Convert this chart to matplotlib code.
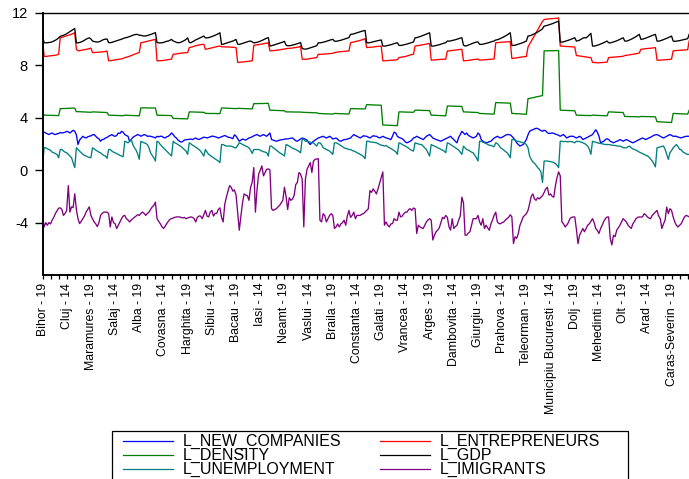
import matplotlib
matplotlib.use("Agg")
import matplotlib.pyplot as plt
from matplotlib.lines import Line2D
from matplotlib.patches import Rectangle

# judetele din panel (Bihor intra doar cu anul 2019, restul 2010-2019)
counties = ["Bistrita-Nasaud", "Cluj", "Maramures", "Satu Mare", "Salaj",
            "Alba", "Brasov", "Covasna", "Harghita", "Mures", "Sibiu",
            "Bacau", "Botosani", "Iasi", "Neamt", "Suceava", "Vaslui",
            "Braila", "Buzau", "Constanta", "Galati", "Tulcea", "Vrancea",
            "Arges", "Calarasi", "Dambovita", "Giurgiu", "Ialomita", "Prahova", "Teleorman",
            "Ilfov", "Municipiu Bucuresti",
            "Dolj", "Gorj", "Mehedinti", "Olt", "Valcea",
            "Arad", "Caras-Severin", "Hunedoara", "Timis"]
years = ["10", "11", "12", "13", "14", "15", "16", "17", "18", "19"]
obs_labels = ["Bihor - 19"] + [f"{c} - {y}" for c in counties for y in years]

l_new_companies = [
    2.97,
    2.90, 2.84, 2.78, 2.72, 2.80, 2.84, 2.75, 2.72, 2.78, 2.80,
    2.88, 2.84, 2.86, 2.90, 2.97, 2.92, 2.84, 2.95, 3.05, 2.97,
    2.70, 1.96, 2.30, 2.45, 2.59, 2.50, 2.46, 2.55, 2.59, 2.62,
    2.70, 2.72, 2.60, 2.46, 2.40, 2.21, 2.34, 2.36, 2.46, 2.50,
    2.59, 2.65, 2.72, 2.62, 2.59, 2.65, 2.84, 2.80, 2.97, 2.90,
    2.72, 2.65, 2.59, 2.21, 2.34, 2.50, 2.59, 2.65, 2.72, 2.68,
    2.59, 2.65, 2.72, 2.68, 2.59, 2.60, 2.59, 2.55, 2.52, 2.46,
    2.59, 2.55, 2.59, 2.59, 2.50, 2.46, 2.55, 2.59, 2.70, 2.84,
    2.72, 2.55, 2.46, 2.30, 2.21, 2.14, 2.20, 2.30, 2.33, 2.34,
    2.36, 2.38, 2.34, 2.40, 2.46, 2.38, 2.34, 2.40, 2.46, 2.52,
    2.50, 2.46, 2.50, 2.55, 2.60, 2.59, 2.55, 2.52, 2.46, 2.50,
    2.55, 2.60, 2.65, 2.59, 2.52, 2.50, 2.46, 2.41, 2.70, 2.60,
    2.40, 2.21, 2.30, 2.38, 2.34, 2.30, 2.38, 2.46, 2.50, 2.55,
    2.62, 2.68, 2.72, 2.65, 2.59, 2.66, 2.72, 2.65, 2.59, 2.72,
    2.84, 2.34, 2.30, 2.25, 2.21, 2.25, 2.30, 2.32, 2.34, 2.36,
    2.40, 2.38, 2.42, 2.44, 2.46, 2.35, 2.25, 2.21, 2.30, 2.38,
    2.46, 2.42, 2.36, 2.30, 2.10, 1.96, 2.10, 2.21, 2.30, 2.38,
    2.46, 2.50, 2.55, 2.59, 2.52, 2.46, 2.52, 2.59, 2.50, 2.38,
    2.42, 2.46, 2.35, 2.25, 2.21, 2.28, 2.34, 2.34, 2.38, 2.42,
    2.46, 2.60, 2.72, 2.65, 2.59, 2.52, 2.46, 2.55, 2.63, 2.60,
    2.59, 2.52, 2.46, 2.55, 2.63, 2.60, 2.59, 2.52, 2.46, 2.52,
    2.59, 2.52, 2.46, 2.44, 2.38, 2.34, 2.60, 2.90, 2.84, 2.59,
    2.50, 2.46, 2.40, 2.30, 2.15, 2.09, 2.15, 2.21, 2.30, 2.46,
    2.50, 2.59, 2.52, 2.46, 2.40, 2.34, 2.45, 2.59, 2.66, 2.72,
    2.60, 2.46, 2.40, 2.34, 2.30, 2.25, 2.21, 2.28, 2.34, 2.40,
    2.46, 2.52, 2.59, 2.45, 2.34, 2.20, 2.09, 2.50, 2.72, 2.97,
    2.84, 2.72, 2.84, 2.66, 2.59, 2.52, 2.46, 2.52, 2.59, 2.84,
    2.72, 2.34, 2.21, 2.15, 2.09, 2.12, 2.18, 2.21, 2.34, 2.46,
    2.52, 2.59, 2.52, 2.46, 2.52, 2.59, 2.66, 2.72, 2.72, 2.70,
    2.59, 2.46, 2.30, 2.09, 1.96, 1.84, 1.90, 1.96, 2.15, 2.34,
    2.70, 2.97, 3.05, 3.09, 3.15, 3.20, 3.18, 3.10, 3.03, 2.97,
    3.05, 3.00, 2.86, 2.80, 2.82, 2.84, 2.82, 2.75, 2.72, 2.66,
    2.59, 2.66, 2.72, 2.60, 2.46, 2.52, 2.59, 2.59, 2.59, 2.52,
    2.46, 2.52, 2.59, 2.50, 2.34, 2.40, 2.46, 2.52, 2.59, 2.65,
    2.72, 2.90, 3.09, 2.90, 2.60, 2.09, 2.15, 2.21, 2.34, 2.40,
    2.34, 2.21, 2.15, 2.09, 2.15, 2.21, 2.25, 2.34, 2.28, 2.21,
    2.28, 2.34, 2.28, 2.21, 2.15, 2.09, 2.15, 2.21, 2.28, 2.34,
    2.40, 2.46, 2.40, 2.34, 2.40, 2.46, 2.52, 2.59, 2.66, 2.70,
    2.72, 2.66, 2.59, 2.52, 2.46, 2.52, 2.59, 2.66, 2.72, 2.66,
    2.59, 2.59, 2.59, 2.52, 2.50, 2.46, 2.52, 2.55, 2.59, 2.59,
    2.59, 2.65, 2.70, 2.62, 2.60, 2.68, 2.72, 2.66, 2.70, 2.75,
]

l_entrepreneurs = [
    10.00,
    8.70, 8.68, 8.70, 8.72, 8.73, 8.75, 8.76, 8.78, 8.80, 8.85,
    10.11, 10.14, 10.18, 10.22, 10.26, 10.30, 10.34, 10.38, 10.43, 10.49,
    9.23, 9.12, 9.12, 9.15, 9.18, 9.20, 9.22, 9.25, 9.28, 9.32,
    8.98, 8.98, 8.99, 9.00, 9.01, 9.02, 9.03, 9.05, 9.06, 9.10,
    8.35, 8.36, 8.38, 8.40, 8.42, 8.44, 8.46, 8.48, 8.50, 8.52,
    8.60, 8.62, 8.66, 8.70, 8.75, 8.80, 8.85, 8.90, 8.94, 8.98,
    9.73, 9.75, 9.78, 9.81, 9.84, 9.87, 9.90, 9.93, 9.96, 9.99,
    8.35, 8.35, 8.36, 8.37, 8.38, 8.40, 8.42, 8.44, 8.46, 8.48,
    8.85, 8.86, 8.88, 8.90, 8.92, 8.94, 8.95, 8.96, 8.97, 8.98,
    9.36, 9.38, 9.42, 9.46, 9.50, 9.53, 9.56, 9.58, 9.60, 9.61,
    9.23, 9.25, 9.28, 9.31, 9.34, 9.37, 9.40, 9.43, 9.46, 9.48,
    9.42, 9.42, 9.41, 9.41, 9.40, 9.40, 9.39, 9.38, 9.37, 9.36,
    8.23, 8.24, 8.25, 8.26, 8.27, 8.29, 8.30, 8.32, 8.33, 8.35,
    9.53, 9.55, 9.57, 9.59, 9.61, 9.63, 9.65, 9.68, 9.70, 9.73,
    9.11, 9.12, 9.13, 9.14, 9.15, 9.17, 9.19, 9.21, 9.23, 9.25,
    9.28, 9.29, 9.30, 9.31, 9.33, 9.35, 9.37, 9.39, 9.41, 9.48,
    8.48, 8.46, 8.47, 8.48, 8.50, 8.52, 8.54, 8.56, 8.58, 8.60,
    8.85, 8.84, 8.85, 8.86, 8.87, 8.88, 8.89, 8.90, 8.91, 8.92,
    8.98, 9.00, 9.02, 9.04, 9.05, 9.06, 9.07, 9.08, 9.09, 9.11,
    9.73, 9.76, 9.79, 9.82, 9.85, 9.88, 9.91, 9.95, 9.99, 10.04,
    9.36, 9.37, 9.38, 9.39, 9.40, 9.42, 9.44, 9.45, 9.46, 9.48,
    8.35, 8.35, 8.36, 8.37, 8.38, 8.39, 8.40, 8.41, 8.42, 8.43,
    8.60, 8.62, 8.64, 8.66, 8.68, 8.72, 8.76, 8.80, 8.83, 8.85,
    9.48, 9.50, 9.52, 9.54, 9.56, 9.58, 9.60, 9.63, 9.66, 9.68,
    8.40, 8.41, 8.42, 8.43, 8.44, 8.45, 8.46, 8.47, 8.47, 8.48,
    9.10, 9.11, 9.12, 9.14, 9.15, 9.17, 9.19, 9.20, 9.22, 9.23,
    8.35, 8.36, 8.37, 8.38, 8.40, 8.42, 8.44, 8.46, 8.47, 8.48,
    8.40, 8.41, 8.42, 8.43, 8.44, 8.45, 8.46, 8.47, 8.48, 8.50,
    9.73, 9.74, 9.75, 9.76, 9.77, 9.78, 9.79, 9.80, 9.81, 9.82,
    8.53, 8.54, 8.56, 8.58, 8.60, 8.62, 8.64, 8.65, 8.67, 8.68,
    9.40, 9.62, 9.83, 10.05, 10.28, 10.50, 10.71, 10.93, 11.15, 11.36,
    11.50, 11.52, 11.54, 11.55, 11.56, 11.57, 11.58, 11.59, 11.60, 11.62,
    9.48, 9.47, 9.46, 9.45, 9.44, 9.44, 9.43, 9.42, 9.41, 9.40,
    8.75, 8.74, 8.72, 8.70, 8.68, 8.66, 8.64, 8.62, 8.61, 8.60,
    8.23, 8.22, 8.21, 8.20, 8.20, 8.21, 8.22, 8.23, 8.24, 8.25,
    8.60, 8.61, 8.62, 8.63, 8.64, 8.65, 8.66, 8.67, 8.68, 8.70,
    8.75, 8.77, 8.79, 8.81, 8.83, 8.85, 8.87, 8.89, 8.92, 8.95,
    9.23, 9.24, 9.26, 9.28, 9.29, 9.30, 9.31, 9.33, 9.34, 9.36,
    8.40, 8.40, 8.41, 8.41, 8.42, 8.43, 8.44, 8.45, 8.46, 8.48,
    9.11, 9.12, 9.13, 9.14, 9.15, 9.16, 9.17, 9.18, 9.19, 9.20,
    9.90, 9.93, 9.96, 9.99, 10.02, 10.05, 10.08, 10.11, 10.14, 10.17,
]

l_density = [
    4.45,
    4.20, 4.20, 4.19, 4.19, 4.19, 4.18, 4.18, 4.18, 4.17, 4.17,
    4.70, 4.70, 4.71, 4.71, 4.72, 4.72, 4.73, 4.73, 4.74, 4.74,
    4.47, 4.47, 4.46, 4.46, 4.45, 4.45, 4.44, 4.43, 4.43, 4.42,
    4.45, 4.45, 4.44, 4.44, 4.43, 4.42, 4.42, 4.41, 4.41, 4.40,
    4.20, 4.20, 4.19, 4.19, 4.18, 4.18, 4.17, 4.17, 4.16, 4.16,
    4.20, 4.20, 4.19, 4.18, 4.18, 4.17, 4.17, 4.16, 4.16, 4.15,
    4.76, 4.76, 4.76, 4.76, 4.75, 4.75, 4.75, 4.75, 4.75, 4.75,
    4.20, 4.20, 4.19, 4.19, 4.19, 4.18, 4.18, 4.18, 4.17, 4.17,
    3.95, 3.95, 3.95, 3.94, 3.94, 3.93, 3.93, 3.93, 3.92, 3.92,
    4.45, 4.45, 4.45, 4.44, 4.44, 4.43, 4.43, 4.43, 4.42, 4.42,
    4.34, 4.34, 4.33, 4.33, 4.33, 4.33, 4.33, 4.32, 4.32, 4.32,
    4.75, 4.75, 4.74, 4.74, 4.73, 4.72, 4.72, 4.71, 4.71, 4.70,
    4.72, 4.72, 4.71, 4.71, 4.70, 4.70, 4.69, 4.69, 4.68, 4.68,
    5.08, 5.08, 5.08, 5.09, 5.09, 5.09, 5.09, 5.10, 5.10, 5.10,
    4.58, 4.58, 4.57, 4.57, 4.56, 4.56, 4.55, 4.55, 4.54, 4.54,
    4.45, 4.45, 4.45, 4.45, 4.45, 4.44, 4.44, 4.44, 4.44, 4.44,
    4.42, 4.42, 4.41, 4.41, 4.40, 4.40, 4.39, 4.39, 4.38, 4.38,
    4.33, 4.33, 4.32, 4.31, 4.31, 4.30, 4.30, 4.29, 4.29, 4.28,
    4.33, 4.33, 4.32, 4.32, 4.31, 4.31, 4.30, 4.30, 4.29, 4.29,
    4.70, 4.70, 4.70, 4.69, 4.69, 4.69, 4.69, 4.68, 4.68, 4.68,
    5.00, 5.00, 4.99, 4.99, 4.98, 4.98, 4.97, 4.97, 4.96, 4.96,
    3.45, 3.45, 3.44, 3.44, 3.43, 3.42, 3.42, 3.41, 3.41, 3.40,
    4.45, 4.45, 4.45, 4.44, 4.44, 4.43, 4.43, 4.43, 4.42, 4.42,
    4.58, 4.58, 4.58, 4.57, 4.57, 4.56, 4.56, 4.56, 4.55, 4.55,
    4.20, 4.20, 4.19, 4.19, 4.18, 4.17, 4.17, 4.16, 4.16, 4.15,
    4.90, 4.90, 4.90, 4.89, 4.89, 4.88, 4.88, 4.88, 4.87, 4.87,
    4.45, 4.45, 4.44, 4.44, 4.43, 4.42, 4.42, 4.41, 4.41, 4.40,
    4.33, 4.33, 4.32, 4.32, 4.31, 4.30, 4.30, 4.29, 4.29, 4.28,
    5.16, 5.16, 5.15, 5.15, 5.14, 5.14, 5.13, 5.13, 5.12, 5.12,
    4.33, 4.33, 4.32, 4.31, 4.31, 4.30, 4.29, 4.28, 4.28, 4.27,
    5.46, 5.48, 5.51, 5.53, 5.56, 5.59, 5.62, 5.64, 5.67, 5.70,
    9.11, 9.11, 9.11, 9.12, 9.12, 9.12, 9.12, 9.13, 9.13, 9.13,
    4.58, 4.58, 4.57, 4.57, 4.56, 4.56, 4.55, 4.55, 4.54, 4.54,
    4.20, 4.20, 4.19, 4.19, 4.19, 4.18, 4.18, 4.18, 4.17, 4.17,
    4.20, 4.20, 4.19, 4.18, 4.18, 4.17, 4.17, 4.16, 4.16, 4.15,
    4.45, 4.45, 4.44, 4.44, 4.43, 4.42, 4.42, 4.41, 4.41, 4.40,
    4.10, 4.10, 4.10, 4.09, 4.09, 4.09, 4.08, 4.08, 4.08, 4.07,
    4.10, 4.10, 4.10, 4.09, 4.09, 4.09, 4.08, 4.08, 4.08, 4.07,
    3.70, 3.70, 3.69, 3.68, 3.68, 3.67, 3.66, 3.65, 3.65, 3.64,
    4.33, 4.33, 4.32, 4.31, 4.31, 4.30, 4.30, 4.29, 4.29, 4.28,
    4.60, 4.60, 4.60, 4.61, 4.61, 4.61, 4.61, 4.62, 4.62, 4.62,
]

l_gdp = [
    10.25,
    9.73, 9.72, 9.73, 9.75, 9.76, 9.80, 9.86, 9.92, 10.00, 10.10,
    10.22, 10.26, 10.30, 10.35, 10.42, 10.50, 10.58, 10.66, 10.75, 10.82,
    9.73, 9.72, 9.75, 9.79, 9.85, 9.92, 10.00, 10.06, 10.10, 10.02,
    9.86, 9.82, 9.80, 9.78, 9.80, 9.85, 9.92, 9.98, 10.00, 10.02,
    9.74, 9.73, 9.76, 9.80, 9.84, 9.88, 9.92, 9.96, 10.00, 10.05,
    10.10, 10.12, 10.16, 10.20, 10.25, 10.30, 10.34, 10.37, 10.36, 10.30,
    10.30, 10.26, 10.24, 10.25, 10.28, 10.32, 10.36, 10.40, 10.45, 10.50,
    9.75, 9.72, 9.72, 9.73, 9.75, 9.80, 9.84, 9.86, 9.92, 9.98,
    9.86, 9.82, 9.76, 9.73, 9.74, 9.78, 9.84, 9.90, 9.99, 10.10,
    9.75, 9.73, 9.80, 9.88, 9.95, 10.00, 10.06, 10.12, 10.18, 10.24,
    10.10, 10.10, 10.12, 10.16, 10.20, 10.25, 10.30, 10.36, 10.42, 10.49,
    9.60, 9.62, 9.66, 9.70, 9.74, 9.78, 9.82, 9.86, 9.92, 9.98,
    9.62, 9.60, 9.64, 9.68, 9.72, 9.76, 9.80, 9.84, 9.86, 9.80,
    9.72, 9.74, 9.76, 9.80, 9.85, 9.90, 9.96, 10.02, 10.08, 10.12,
    9.48, 9.50, 9.54, 9.58, 9.62, 9.66, 9.70, 9.74, 9.78, 9.84,
    9.55, 9.50, 9.50, 9.52, 9.55, 9.58, 9.62, 9.66, 9.70, 9.74,
    9.30, 9.25, 9.24, 9.26, 9.30, 9.34, 9.38, 9.42, 9.46, 9.50,
    9.73, 9.72, 9.74, 9.77, 9.80, 9.84, 9.88, 9.92, 9.96, 9.99,
    9.85, 9.84, 9.86, 9.89, 9.92, 9.96, 10.00, 10.04, 10.08, 10.12,
    10.37, 10.38, 10.41, 10.45, 10.49, 10.53, 10.57, 10.61, 10.64, 10.67,
    9.73, 9.72, 9.74, 9.77, 9.80, 9.83, 9.86, 9.89, 9.92, 9.94,
    9.48, 9.47, 9.49, 9.52, 9.55, 9.58, 9.62, 9.66, 9.70, 9.73,
    9.53, 9.52, 9.54, 9.57, 9.60, 9.63, 9.67, 9.71, 9.75, 9.79,
    10.11, 10.12, 10.16, 10.20, 10.24, 10.29, 10.34, 10.39, 10.44, 10.49,
    9.48, 9.47, 9.49, 9.52, 9.55, 9.58, 9.62, 9.66, 9.70, 9.73,
    9.86, 9.85, 9.87, 9.90, 9.93, 9.96, 10.00, 10.04, 10.08, 10.11,
    9.55, 9.48, 9.50, 9.55, 9.60, 9.65, 9.70, 9.74, 9.78, 9.79,
    9.61, 9.60, 9.62, 9.65, 9.68, 9.71, 9.75, 9.79, 9.83, 9.86,
    9.94, 9.96, 10.00, 10.06, 10.12, 10.18, 10.25, 10.32, 10.40, 10.49,
    9.53, 9.52, 9.54, 9.58, 9.62, 9.66, 9.70, 9.75, 9.80, 9.86,
    10.24, 10.26, 10.30, 10.36, 10.42, 10.48, 10.55, 10.62, 10.70, 10.80,
    11.00, 11.02, 11.06, 11.10, 11.14, 11.18, 11.23, 11.28, 11.33, 11.38,
    9.79, 9.78, 9.80, 9.84, 9.88, 9.92, 9.96, 10.01, 10.06, 10.11,
    9.86, 9.88, 9.93, 10.00, 10.08, 10.12, 10.10, 10.20, 10.32, 10.45,
    9.48, 9.47, 9.50, 9.54, 9.58, 9.63, 9.68, 9.73, 9.80, 9.86,
    9.73, 9.72, 9.75, 9.79, 9.83, 9.88, 9.93, 9.99, 10.05, 10.11,
    9.86, 9.85, 9.89, 9.94, 10.00, 10.06, 10.13, 10.20, 10.28, 10.37,
    9.99, 10.00, 10.04, 10.08, 10.13, 10.18, 10.23, 10.28, 10.33, 10.37,
    9.86, 9.85, 9.88, 9.92, 9.97, 10.02, 10.07, 10.12, 10.18, 10.24,
    9.86, 9.84, 9.85, 9.87, 9.89, 9.92, 9.95, 9.98, 10.01, 10.04,
    10.40, 10.42, 10.47, 10.52, 10.58, 10.64, 10.70, 10.77, 10.84, 10.90,
]

l_unemployment = [
    0.33,
    1.71, 1.71, 1.63, 1.58, 1.51, 1.38, 1.33, 1.26, 1.21, 0.95,
    1.58, 1.58, 1.46, 1.38, 1.33, 1.21, 1.08, 0.95, 0.58, 0.20,
    1.71, 1.58, 1.46, 1.33, 1.21, 1.13, 1.08, 1.02, 0.98, 0.95,
    1.71, 1.63, 1.53, 1.46, 1.38, 1.33, 1.21, 1.13, 1.08, 0.91,
    1.58, 1.58, 1.46, 1.38, 1.33, 1.26, 1.21, 1.13, 1.08, 1.03,
    2.21, 2.16, 2.09, 2.20, 2.34, 1.96, 1.71, 1.53, 1.25, 0.83,
    2.21, 2.14, 2.09, 2.04, 1.96, 1.71, 1.33, 1.13, 0.95, 0.70,
    2.21, 2.14, 1.96, 1.84, 1.71, 1.58, 1.46, 1.33, 1.21, 1.08,
    2.21, 2.09, 2.04, 1.96, 1.89, 1.79, 1.68, 1.58, 1.46, 1.21,
    2.09, 2.01, 1.91, 1.84, 1.76, 1.68, 1.58, 1.46, 1.28, 1.08,
    1.58, 1.38, 1.21, 1.13, 1.03, 0.95, 0.88, 0.78, 0.70, 0.58,
    1.96, 1.96, 1.89, 1.84, 1.84, 1.84, 1.84, 1.79, 1.71, 1.71,
    1.89, 2.09, 2.04, 1.96, 1.91, 1.84, 1.79, 1.71, 1.53, 1.28,
    1.58, 1.58, 1.58, 1.58, 1.53, 1.46, 1.41, 1.38, 1.33, 1.08,
    1.84, 1.84, 1.71, 1.63, 1.53, 1.43, 1.33, 1.26, 1.18, 1.08,
    1.96, 1.91, 1.84, 1.76, 1.68, 1.63, 1.58, 1.51, 1.43, 1.33,
    2.39, 2.34, 2.21, 2.21, 2.16, 2.14, 2.09, 2.09, 1.96, 1.84,
    2.09, 2.09, 1.96, 1.71, 1.66, 1.58, 1.53, 1.46, 1.33, 1.21,
    2.09, 2.09, 2.04, 1.96, 1.89, 1.79, 1.71, 1.66, 1.63, 1.58,
    1.58, 1.51, 1.46, 1.41, 1.33, 1.28, 1.21, 1.13, 1.03, 0.88,
    2.21, 2.21, 2.16, 2.14, 2.14, 2.11, 2.09, 2.04, 1.96, 1.91,
    1.89, 1.84, 1.89, 1.79, 1.71, 1.66, 1.58, 1.51, 1.41, 1.21,
    2.09, 2.04, 1.96, 1.89, 1.84, 1.76, 1.68, 1.58, 1.51, 1.46,
    2.09, 2.04, 2.01, 1.96, 1.96, 1.84, 1.71, 1.58, 1.33, 1.08,
    1.96, 1.89, 1.84, 1.79, 1.71, 1.66, 1.58, 1.53, 1.46, 1.33,
    2.09, 2.04, 1.96, 1.89, 1.79, 1.71, 1.63, 1.53, 1.38, 1.21,
    1.84, 1.71, 1.58, 1.53, 1.46, 1.38, 1.33, 1.13, 0.95, 0.70,
    2.21, 2.21, 2.14, 2.09, 2.04, 1.96, 1.91, 1.89, 1.84, 1.79,
    2.09, 2.04, 1.89, 1.71, 1.63, 1.53, 1.43, 1.33, 1.18, 0.95,
    2.34, 2.34, 2.29, 2.21, 2.21, 2.16, 2.14, 2.09, 2.04, 1.96,
    1.71, 1.08, 0.83, 0.63, 0.53, 0.38, 0.20, 0.08, -0.13, -0.93,
    0.70, 0.70, 0.70, 0.68, 0.65, 0.63, 0.58, 0.50, 0.38, 0.20,
    2.21, 2.21, 2.18, 2.20, 2.18, 2.16, 2.20, 2.18, 2.14, 2.09,
    2.21, 2.20, 2.18, 2.14, 2.09, 2.04, 1.96, 1.84, 1.60, 1.21,
    2.21, 2.16, 2.14, 2.09, 2.06, 2.04, 2.01, 1.99, 1.96, 1.96,
    1.96, 1.94, 1.91, 1.89, 1.89, 1.86, 1.84, 1.84, 1.79, 1.71,
    1.71, 1.71, 1.79, 1.84, 1.71, 1.63, 1.58, 1.53, 1.46, 1.38,
    1.33, 1.26, 1.21, 1.15, 1.10, 1.00, 0.85, 0.70, 0.50, 0.25,
    1.71, 1.74, 1.78, 1.82, 1.84, 1.60, 1.20, 0.83, 1.33, 1.50,
    1.71, 1.84, 1.96, 1.80, 1.60, 1.55, 1.40, 1.33, 1.25, 1.20,
    1.21, 1.30, 1.26, 1.18, 1.10, 1.02, 0.95, 0.86, 0.75, 0.65,
]

l_imigrants = [
    -3.57,
    -4.33, -4.00, -4.20, -4.00, -4.10, -3.80, -3.60, -3.30, -3.10, -2.90,
    -2.87, -3.00, -3.45, -3.30, -3.07, -1.18, -3.20, -2.80, -2.85, -1.80,
    -3.00, -3.70, -4.08, -3.90, -3.70, -3.50, -3.20, -3.00, -2.80, -3.45,
    -3.70, -3.95, -4.10, -4.30, -4.00, -3.45, -3.30, -3.20, -3.20, -3.20,
    -3.30, -4.33, -3.57, -4.00, -4.08, -4.45, -4.20, -3.95, -3.70, -3.50,
    -3.45, -3.70, -3.80, -3.95, -3.80, -3.70, -3.60, -3.50, -3.40, -3.45,
    -3.30, -3.20, -3.30, -3.45, -3.30, -3.20, -3.00, -2.80, -2.69, -2.44,
    -3.70, -3.90, -4.08, -4.30, -4.45, -4.30, -4.08, -3.90, -3.75, -3.70,
    -3.65, -3.60, -3.57, -3.57, -3.57, -3.60, -3.65, -3.60, -3.70, -3.65,
    -3.60, -3.57, -3.60, -3.70, -3.95, -3.60, -3.50, -3.50, -3.70, -3.40,
    -3.07, -3.50, -3.57, -3.20, -3.07, -3.50, -3.30, -3.30, -3.00, -2.87,
    -3.60, -3.95, -2.60, -2.06, -1.60, -1.18, -1.30, -1.60, -1.50, -1.90,
    -3.20, -4.58, -3.50, -2.50, -1.81, -1.90, -1.94, -2.30, -1.31, -0.93,
    0.20, -3.20, -1.50, -0.30, 0.00, 0.33, -0.43, -0.18, 0.07, 0.10,
    0.03, -2.94, -3.07, -3.00, -2.94, -2.80, -2.69, -2.50, -2.30, -1.30,
    -2.00, -3.00, -2.10, -2.30, -2.20, -1.94, -1.10, -0.93, -0.18, -0.30,
    -0.68, -4.33, -0.68, 0.07, 0.33, 0.58, -0.18, 0.70, 0.83, 0.85,
    0.88, -3.82, -3.95, -3.32, -3.45, -3.95, -3.70, -3.45, -3.32, -3.45,
    -4.45, -4.33, -4.10, -4.33, -4.10, -4.00, -3.82, -4.20, -3.50, -3.07,
    -3.60, -3.45, -3.20, -3.70, -3.45, -3.45, -3.45, -3.35, -3.32, -3.20,
    -3.07, -2.94, -1.56, -1.69, -1.43, -1.60, -1.81, -1.43, -1.00, -0.56,
    -0.13, -4.20, -3.95, -4.20, -4.33, -4.10, -4.08, -3.70, -3.82, -3.82,
    -3.20, -3.57, -3.50, -3.32, -3.20, -3.20, -3.00, -2.94, -3.07, -2.89,
    -2.94, -4.83, -4.20, -4.33, -4.40, -4.45, -4.20, -3.95, -3.80, -3.70,
    -3.82, -5.33, -4.96, -4.70, -4.58, -4.40, -4.00, -3.60, -3.70, -3.45,
    -3.60, -4.30, -4.58, -3.70, -4.45, -4.30, -4.20, -3.82, -3.50, -2.06,
    -2.50, -4.96, -4.96, -4.80, -4.70, -4.20, -3.70, -3.70, -3.70, -3.45,
    -3.95, -4.20, -3.70, -4.45, -4.20, -4.40, -4.58, -4.10, -3.80, -3.45,
    -3.20, -3.95, -4.08, -4.08, -4.00, -3.95, -3.80, -3.70, -3.60, -3.40,
    -3.57, -5.60, -5.08, -5.20, -4.83, -4.20, -3.90, -3.57, -3.45, -3.32,
    -3.07, -2.57, -2.00, -1.81, -2.19, -2.30, -2.10, -2.19, -2.06, -1.94,
    -1.70, -1.43, -1.30, -1.90, -1.81, -2.00, -2.06, -1.18, -0.56, -0.13,
    -0.43, -3.95, -4.08, -4.33, -4.20, -4.00, -3.70, -3.60, -3.57, -3.57,
    -4.50, -5.60, -4.96, -4.70, -4.45, -4.70, -4.45, -4.20, -4.10, -3.90,
    -3.70, -4.00, -4.45, -4.60, -4.83, -4.45, -4.20, -3.90, -3.70, -3.57,
    -3.57, -5.21, -5.71, -4.96, -5.08, -4.58, -4.40, -4.20, -3.95, -3.70,
    -3.82, -3.95, -4.20, -4.33, -4.45, -4.10, -3.90, -3.70, -3.60, -3.57,
    -3.57, -3.57, -3.32, -3.40, -3.57, -3.65, -3.70, -3.45, -3.32, -3.20,
    -3.07, -3.50, -3.70, -4.45, -4.10, -3.82, -2.82, -3.32, -2.94, -3.07,
    -3.57, -3.95, -4.20, -4.33, -4.20, -4.08, -3.82, -3.57, -3.45, -3.50,
    -3.57, -3.40, -3.30, -3.50, -3.20, -3.00, -3.10, -2.90, -2.80, -2.70,
]

series = [
    ("L_NEW_COMPANIES", l_new_companies, "#0000ff"),
    ("L_ENTREPRENEURS", l_entrepreneurs, "#ff0000"),
    ("L_DENSITY", l_density, "#008000"),
    ("L_GDP", l_gdp, "#000000"),
    ("L_UNEMPLOYMENT", l_unemployment, "#008080"),
    ("L_IMIGRANTS", l_imigrants, "#800080"),
]
for name, vals, _ in series:
    if len(vals) != len(obs_labels):
        print(name, len(vals), "!=", len(obs_labels))

W, H = 689, 479
fig = plt.figure(figsize=(W / 100, H / 100), dpi=100)
# axa continua dincolo de marginea dreapta (imaginea e taiata)
ax = fig.add_axes([42.5 / W, 1 - 275 / H, 661.3 / W, 262 / H])

for name, vals, col in series:
    ax.plot(range(len(vals)), vals, color=col, lw=0.95)

ax.set_xlim(0, len(obs_labels) - 1)
ax.set_ylim(-8, 12)
ax.set_yticks([-4, 0, 4, 8, 12])
ax.set_yticklabels(["-4", "0", "4", "8", "12"], family="Liberation Sans", fontsize=10.5)
ax.tick_params(axis="y", direction="out", length=6, width=1.0, pad=4.5)

# eticheta la fiecare 15 observatii, doar cele care intra in imagine
ticks = list(range(0, len(obs_labels), 5))
ax.set_xticks(ticks)
ax.set_xticklabels([obs_labels[i] if i % 15 == 0 and i <= 390 else "" for i in ticks],
                   rotation=90, family="Liberation Sans", fontsize=8.8)
ax.tick_params(axis="x", direction="out", length=3.2, width=0.9, pad=2.4)

ax.spines["left"].set_linewidth(1.4)
ax.spines["bottom"].set_linewidth(1.4)
ax.spines["top"].set_linewidth(1.0)
ax.spines["right"].set_visible(False)

# legenda desenata manual, ca in EViews
fig.add_artist(Rectangle((112 / W, 1 - 490 / H), 516 / W, 59 / H,
                         transform=fig.transFigure, fill=False, edgecolor="black", lw=0.9))
cols = [123, 380]
rows = [441, 455, 469]
for k, (name, vals, col) in enumerate(series):
    cx = cols[k % 2]
    ry = rows[k // 2]
    fig.add_artist(Line2D([cx / W, (cx + 50) / W], [1 - ry / H, 1 - ry / H],
                          transform=fig.transFigure, color=col, lw=0.9))
    fig.text((cx + 60) / W, 1 - ry / H, name, ha="left", va="center",
             family="Liberation Sans", fontsize=11.5)

fig.savefig("out.png", dpi=100)
